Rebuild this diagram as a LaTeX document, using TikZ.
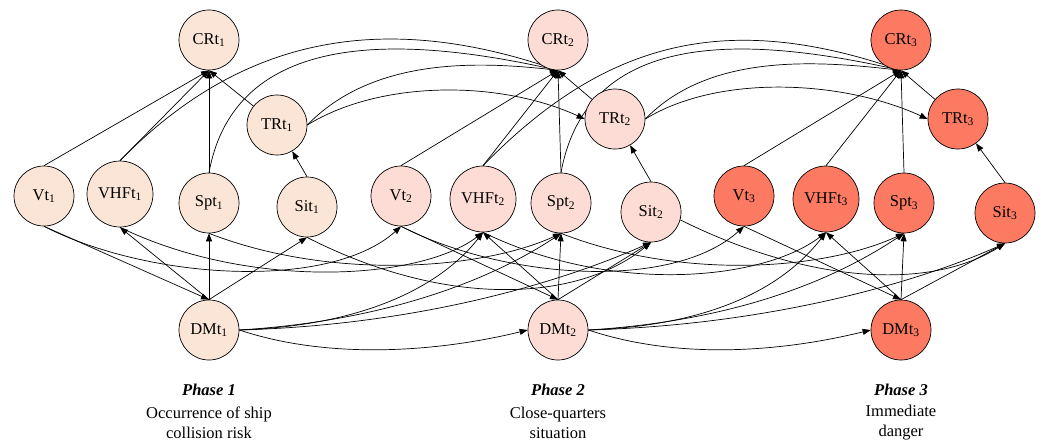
\documentclass[tikz,border=0pt]{standalone}
\usepackage{fontspec}
\setmainfont{Liberation Serif}
\usetikzlibrary{arrows.meta}
\pgfdeclarelayer{edges}
\pgfsetlayers{edges,main}
\definecolor{phaseA}{RGB}{251,229,214}
\definecolor{phaseB}{RGB}{252,220,212}
\definecolor{phaseC}{RGB}{252,122,98}
\begin{document}
\begin{tikzpicture}[x=1pt,y=-1pt,
  var/.style={circle,draw=black,line width=0.7pt,minimum size=60pt,inner sep=0pt,
    font=\fontsize{16.5}{18}\selectfont},
  wide/.style={minimum size=66pt},
  pa/.style={var,fill=phaseA},
  pb/.style={var,fill=phaseB},
  pc/.style={var,fill=phaseC},
  link/.style={draw=black,line width=0.7pt,-{Triangle[length=8pt,width=6pt]}},
  phase/.style={font=\fontsize{16.5}{20}\selectfont\bfseries\itshape},
  caption/.style={align=center,font=\fontsize{16.5}{20}\selectfont}
]
\useasboundingbox (0,0) rectangle (1045,445);

% ---- phase 1 ----
\node[pa] (CR1) at (209,40) {CRt\textsubscript{1}};
\node[pa] (TR1) at (277,125) {TRt\textsubscript{1}};
\node[pa] (V1) at (44,196) {Vt\textsubscript{1}};
\node[pa,wide] (VHF1) at (120,194) {VHFt\textsubscript{1}};
\node[pa] (SP1) at (209,203) {Spt\textsubscript{1}};
\node[pa] (SI1) at (307,207) {Sit\textsubscript{1}};
\node[pa] (DM1) at (209,330) {DMt\textsubscript{1}};

% ---- phase 2 ----
\node[pb] (CR2) at (558,40) {CRt\textsubscript{2}};
\node[pb] (TR2) at (615,119) {TRt\textsubscript{2}};
\node[pb] (V2) at (401,196) {Vt\textsubscript{2}};
\node[pb,wide] (VHF2) at (483,199) {VHFt\textsubscript{2}};
\node[pb] (SP2) at (561,203) {Spt\textsubscript{2}};
\node[pb] (SI2) at (651,212) {Sit\textsubscript{2}};
\node[pb] (DM2) at (558,330) {DMt\textsubscript{2}};

% ---- phase 3 ----
\node[pc] (CR3) at (901,40) {CRt\textsubscript{3}};
\node[pc] (TR3) at (958,119) {TRt\textsubscript{3}};
\node[pc] (V3) at (744,196) {Vt\textsubscript{3}};
\node[pc,wide] (VHF3) at (826,199) {VHFt\textsubscript{3}};
\node[pc] (SP3) at (904,203) {Spt\textsubscript{3}};
\node[pc] (SI3) at (1005,213) {Sit\textsubscript{3}};
\node[pc] (DM3) at (901,330) {DMt\textsubscript{3}};

% ---- captions ----
\node[phase] (H1) at (209,390) {Phase 1};
\node[caption] (C1) at (209,423) {Occurrence of ship\\collision risk};
\node[phase] (H2) at (558,390) {Phase 2};
\node[caption] (C2) at (558,423) {Close-quarters\\situation};
\node[phase] (H3) at (901,390) {Phase 3};
\node[caption] (C3) at (901,423) {Immediate\\danger};

\begin{pgfonlayer}{edges}
% links inside each phase
\foreach \k in {1,2,3}{
  \draw[link] (V\k.north) -- (CR\k.south);
  \draw[link] (VHF\k.north) -- (CR\k.south);
  \draw[link] (SP\k.north) -- (CR\k.south);
  \draw[link] (TR\k) -- (CR\k.south);
  \draw[link] (SI\k.north) -- (TR\k);
  \draw[link] (V\k.south) -- (DM\k.north);
  \draw[link] (DM\k.north) -- (VHF\k.south);
  \draw[link] (DM\k.north) -- (SP\k.south);
  \draw[link] (DM\k.north) -- (SI\k.south);
}
% links from one phase to the next
\foreach \a/\b in {1/2,2/3}{
  \draw[link] (VHF\a.north) .. controls +(120,-123) and +(-178,-60) .. (CR\b.south);
  \draw[link] (SP\a.north) .. controls +(26,-143) and +(-158,-35) .. (CR\b.south);
  \draw[link] (TR\a.east) .. controls +(63,-65) and +(-88,-10) .. (CR\b.south);
  \draw[link] (TR\a.east) .. controls +(73,-45) and +(-85,-39) .. (TR\b.west);
  \draw[link] (V\a.south) .. controls +(106,54) and +(-71,64) .. (V\b.south);
  \draw[link] (VHF\a.south) .. controls +(130,63) and +(-63,48) .. (VHF\b.south);
  \draw[link] (SP\a.south) .. controls +(121,47) and +(-81,37) .. (SP\b.south);
  \draw[link] (DM\a.east) .. controls +(90,30) and +(-90,22) .. (DM\b.west);
  \draw[link] (DM\a.east) .. controls +(140,-5) and +(-35,45) .. (VHF\b.south);
  \draw[link] (DM\a.east) .. controls +(160,-10) and +(-60,40) .. (SP\b.south);
  \draw[link] (DM\a.east) .. controls +(180,-5) and +(-90,40) .. (SI\b.south);
}
\draw[link] (SI1.south) .. controls +(143,73) and +(-71,58) .. (SI2.south);
\draw[link] (SI2.-15) .. controls +(120,60) and +(-80,50) .. (SI3.south);
\end{pgfonlayer}
\end{tikzpicture}
\end{document}
